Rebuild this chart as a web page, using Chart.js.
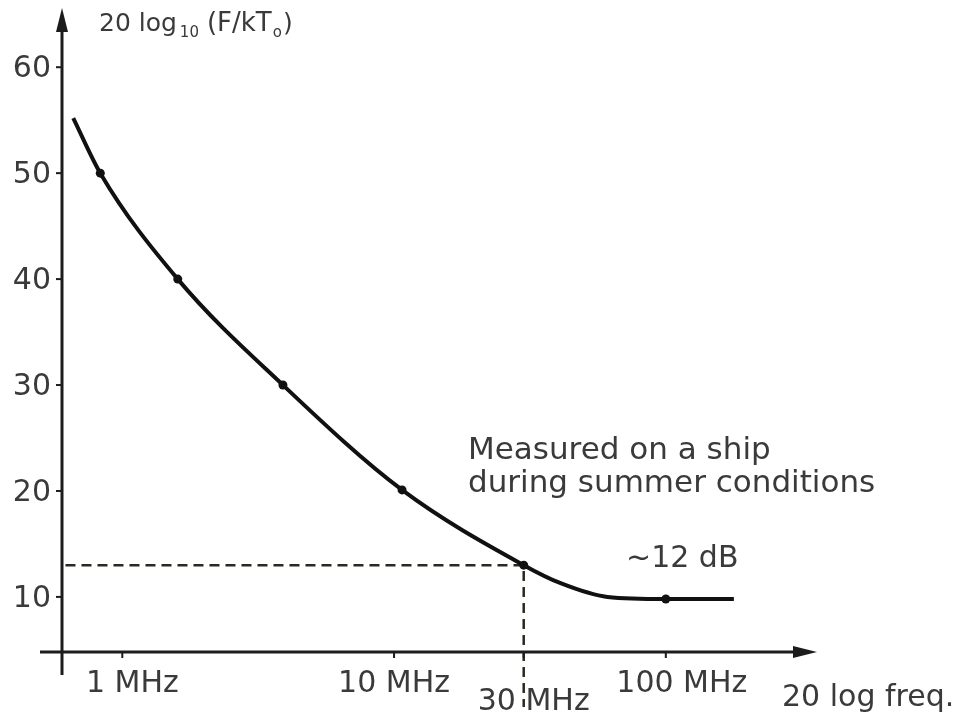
<!DOCTYPE html>
<html>
<head>
<meta charset="utf-8">
<script src="https://cdn.jsdelivr.net/npm/chart.js@4/dist/chart.umd.min.js"></script>
<style>
  html, body { margin: 0; padding: 0; background: #fff; }
  #wrap { width: 959px; height: 716px; }
</style>
</head>
<body>
<div id="wrap"><canvas id="noiseChart"></canvas></div>
<script>
// noise figure curve (frequency in MHz, level in dB)
const freqMHz = [0.66, 0.83, 1.6, 3.9, 10.7, 30, 41, 61, 100, 178];
const noiseDb = [55.2, 50, 40, 30, 20.1, 13, 11.3, 10.0, 9.8, 9.8];
const markedPoint = [false, true, true, true, true, true, false, false, true, false];

const yTicks = [10, 20, 30, 40, 50, 60];
const xTicks = [1, 10, 30, 100];
const xTickLabels = ['1 MHz', '10 MHz', '30 MHz', '100 MHz'];

// the dashed guide at 30 MHz
const guideFreq = 30;
const guideDb = 13;
const guideBottomDb = -0.4;

const xRange = [0.618, 360];
const yRange = [4.8, 65.4];

const FONT = '"DejaVu Sans", "Liberation Sans", Arial, sans-serif';
const ink = '#1c1c1c';
const textInk = '#3a3a3a';

const sketchAxes = {
  id: 'sketchAxes',
  afterDraw(chart) {
    const { ctx, chartArea: a, scales: { x, y } } = chart;
    ctx.save();
    ctx.strokeStyle = ink;
    ctx.fillStyle = ink;
    ctx.lineWidth = 3;

    // y axis with arrow
    ctx.beginPath();
    ctx.moveTo(a.left, a.bottom + 23);
    ctx.lineTo(a.left, a.top + 16);
    ctx.stroke();
    ctx.beginPath();
    ctx.moveTo(a.left, a.top - 2);
    ctx.lineTo(a.left - 6, a.top + 22);
    ctx.lineTo(a.left + 6, a.top + 22);
    ctx.closePath();
    ctx.fill();

    // x axis with arrow
    ctx.beginPath();
    ctx.moveTo(a.left - 22, a.bottom);
    ctx.lineTo(a.right - 16, a.bottom);
    ctx.stroke();
    ctx.beginPath();
    ctx.moveTo(a.right, a.bottom);
    ctx.lineTo(a.right - 24, a.bottom - 6);
    ctx.lineTo(a.right - 24, a.bottom + 6);
    ctx.closePath();
    ctx.fill();

    // y ticks + labels
    ctx.lineWidth = 2;
    ctx.font = '30px ' + FONT;
    ctx.textAlign = 'right';
    ctx.textBaseline = 'middle';
    yTicks.forEach(v => {
      const py = y.getPixelForValue(v);
      ctx.beginPath();
      ctx.moveTo(a.left - 6, py);
      ctx.lineTo(a.left, py);
      ctx.stroke();
      ctx.fillStyle = textInk;
      ctx.fillText(String(v), a.left - 11, py + 2);
    });

    // x ticks + labels
    const shift = [10, 0, 10, 16];
    const drop = [40, 40, 58, 40];
    ctx.textAlign = 'center';
    ctx.textBaseline = 'alphabetic';
    xTicks.forEach((v, i) => {
      const px = x.getPixelForValue(v);
      ctx.beginPath();
      ctx.moveTo(px, a.bottom);
      ctx.lineTo(px, a.bottom + 6);
      ctx.stroke();
      ctx.fillStyle = textInk;
      ctx.fillText(xTickLabels[i], px + shift[i], a.bottom + drop[i]);
    });

    // axis titles
    ctx.textAlign = 'left';
    ctx.fillText('20 log freq.', 782, 706);

    let tx = 99;
    const ty = 31;
    const piece = (str, size, dy) => {
      ctx.font = size + 'px ' + FONT;
      ctx.fillText(str, tx, ty + dy);
      tx += ctx.measureText(str).width;
    };
    piece('20 log', 25, 0);
    tx += 3;
    piece('10', 15, 6);
    tx += 8;
    piece('(F/kT', 26, 0);
    tx += 1;
    piece('o', 15, 6);
    tx += 1;
    piece(')', 25, 0);

    // annotations
    ctx.font = '31px ' + FONT;
    ctx.fillText('Measured on a ship', 468, 459);
    ctx.fillText('during summer conditions', 468, 492);
    ctx.font = '30px ' + FONT;
    ctx.fillText('~12 dB', 626, 567);
    ctx.restore();
  }
};

new Chart(document.getElementById('noiseChart'), {
  type: 'scatter',
  data: {
    datasets: [
      {
        data: freqMHz.map((f, i) => ({ x: f, y: noiseDb[i] })),
        showLine: true,
        borderColor: '#111',
        borderWidth: 4,
        cubicInterpolationMode: 'monotone',
        pointRadius: markedPoint.map(m => (m ? 4.5 : 0)),
        pointBackgroundColor: '#111',
        pointBorderWidth: 0
      },
      {
        data: [
          { x: xRange[0], y: guideDb },
          { x: guideFreq, y: guideDb },
          { x: guideFreq, y: guideBottomDb }
        ],
        showLine: true,
        borderColor: '#2a2a22',
        borderWidth: 2.5,
        borderDash: [10, 6],
        pointRadius: 0,
        clip: false
      }
    ]
  },
  options: {
    responsive: true,
    maintainAspectRatio: false,
    animation: false,
    layout: { padding: { left: 62, right: 142, top: 10, bottom: 64 } },
    plugins: { legend: { display: false }, tooltip: { enabled: false } },
    scales: {
      x: { type: 'logarithmic', min: xRange[0], max: xRange[1], display: false },
      y: { type: 'linear', min: yRange[0], max: yRange[1], display: false }
    }
  },
  plugins: [sketchAxes]
});
</script>
</body>
</html>
